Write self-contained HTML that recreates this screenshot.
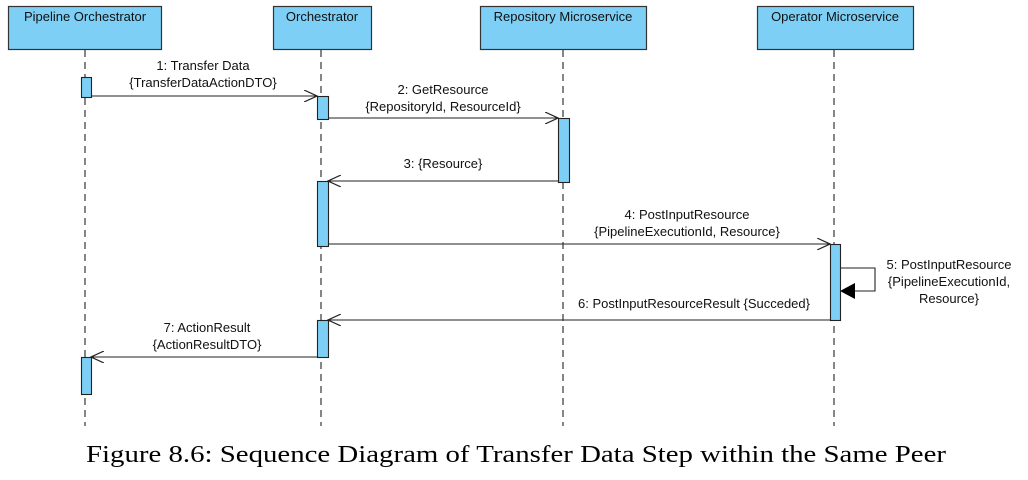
<!DOCTYPE html>
<html><head><meta charset="utf-8"><style>
html,body{margin:0;padding:0;background:#fff;width:1028px;height:480px;overflow:hidden}
svg{display:block}
text{font-family:"Liberation Sans",Arial,sans-serif;font-size:13px;fill:#111}
</style></head><body>
<svg width="1028" height="480" viewBox="0 0 1028 480" xmlns="http://www.w3.org/2000/svg">
<defs>
<marker id="open" markerWidth="14" markerHeight="12" refX="13" refY="6" orient="auto" markerUnits="userSpaceOnUse">
<path d="M0,0 L13,6 L0,12" fill="none" stroke="#222" stroke-width="1.2"/></marker>
<marker id="fill" markerWidth="16" markerHeight="16" refX="15" refY="8" orient="auto" markerUnits="userSpaceOnUse">
<path d="M0,0 L15,8 L0,16 Z" fill="#000"/></marker>
</defs>
<g fill="#7dcff5" stroke="#333" stroke-width="1.2">
<rect x="8.5" y="6.5" width="153" height="43"/>
<rect x="273.5" y="6.5" width="98" height="43"/>
<rect x="480.5" y="6.5" width="166" height="43"/>
<rect x="757.5" y="6.5" width="156" height="43"/>
</g>
<text x="85" y="21" text-anchor="middle">Pipeline Orchestrator</text>
<text x="322" y="21" text-anchor="middle">Orchestrator</text>
<text x="563" y="21" text-anchor="middle">Repository Microservice</text>
<text x="835" y="21" text-anchor="middle">Operator Microservice</text>
<g stroke="#444" stroke-width="1.3" stroke-dasharray="7,5">
<line x1="85" y1="50" x2="85" y2="426"/>
<line x1="321" y1="50" x2="321" y2="426"/>
<line x1="563" y1="50" x2="563" y2="426"/>
<line x1="834" y1="50" x2="834" y2="426"/>
</g>
<g stroke="#222" stroke-width="1.1" fill="none">
<line x1="91" y1="96" x2="317" y2="96" marker-end="url(#open)"/>
<line x1="328" y1="118" x2="558" y2="118" marker-end="url(#open)"/>
<line x1="558" y1="181" x2="328" y2="181" marker-end="url(#open)"/>
<line x1="328" y1="244" x2="830" y2="244" marker-end="url(#open)"/>
<polyline points="840,268 875,268 875,291 840,291" marker-end="url(#fill)"/>
<line x1="830" y1="320" x2="328" y2="320" marker-end="url(#open)"/>
<line x1="317" y1="357" x2="91" y2="357" marker-end="url(#open)"/>
</g>
<g fill="#7dcff5" stroke="#222" stroke-width="1.1">
<rect x="81.5" y="77.5" width="10" height="20"/>
<rect x="317.5" y="96.5" width="11" height="23"/>
<rect x="558.5" y="118.5" width="11" height="64"/>
<rect x="317.5" y="181.5" width="11" height="65"/>
<rect x="830.5" y="244.5" width="10" height="76"/>
<rect x="317.5" y="320.5" width="11" height="37"/>
<rect x="81.5" y="357.5" width="10" height="37"/>
</g>
<text x="203" y="70" text-anchor="middle">1: Transfer Data</text>
<text x="203" y="87" text-anchor="middle">{TransferDataActionDTO}</text>
<text x="443" y="94" text-anchor="middle">2: GetResource</text>
<text x="443" y="111" text-anchor="middle">{RepositoryId, ResourceId}</text>
<text x="443" y="168" text-anchor="middle">3: {Resource}</text>
<text x="687" y="219" text-anchor="middle">4: PostInputResource</text>
<text x="687" y="236" text-anchor="middle">{PipelineExecutionId, Resource}</text>
<text x="949" y="269" text-anchor="middle">5: PostInputResource</text>
<text x="949" y="286" text-anchor="middle">{PipelineExecutionId,</text>
<text x="949" y="303" text-anchor="middle">Resource}</text>
<text x="694" y="308" text-anchor="middle">6: PostInputResourceResult {Succeded}</text>
<text x="207" y="332" text-anchor="middle">7: ActionResult</text>
<text x="207" y="349" text-anchor="middle">{ActionResultDTO}</text>
<text x="86" y="462" textLength="860" lengthAdjust="spacingAndGlyphs" style="font-family:'Liberation Serif','Times New Roman',serif;font-size:24px;fill:#000">Figure 8.6: Sequence Diagram of Transfer Data Step within the Same Peer</text>
</svg>
</body></html>
